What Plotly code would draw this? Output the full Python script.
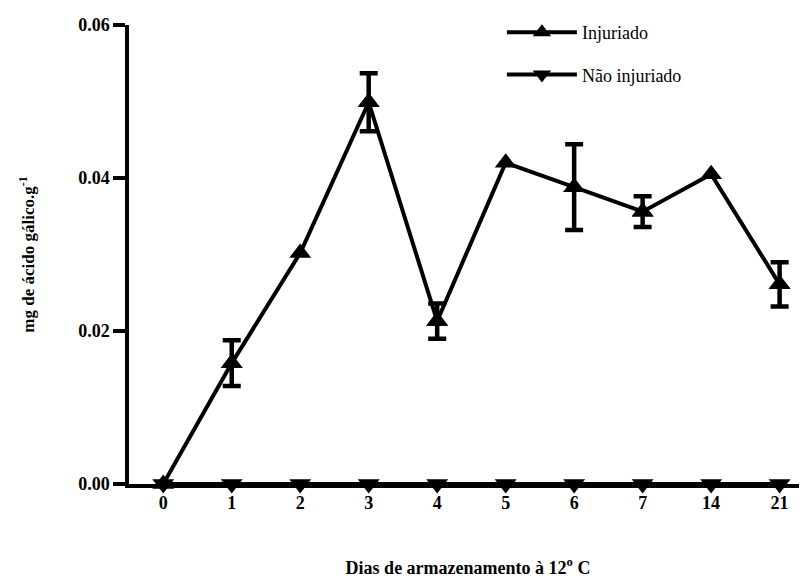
import plotly.graph_objects as go

dias = ["0", "1", "2", "3", "4", "5", "6", "7", "14", "21"]
injuriado = [0.0, 0.0158, 0.0302, 0.0499, 0.0213, 0.0420, 0.0388, 0.0356, 0.0405, 0.0261]
injuriado_err = [0.0, 0.0030, 0.0, 0.0038, 0.0023, 0.0, 0.0056, 0.0020, 0.0, 0.0029]
nao_injuriado = [0.0, 0.0, 0.0, 0.0, 0.0, 0.0, 0.0, 0.0, 0.0, 0.0]

font_family = "Liberation Serif, Times New Roman, serif"

# points that actually carry an error bar
err_idx = [i for i, e in enumerate(injuriado_err) if e > 0]

fig = go.Figure()
fig.add_trace(go.Scatter(
    x=dias, y=injuriado, name="Injuriado", legendgroup="a",
    mode="lines+markers",
    line=dict(color="black", width=4),
    marker=dict(symbol="triangle-up", size=19, color="black"),
    cliponaxis=False,
))
fig.add_trace(go.Scatter(
    x=[dias[i] for i in err_idx], y=[injuriado[i] for i in err_idx],
    mode="markers", showlegend=False, hoverinfo="skip",
    marker=dict(symbol="triangle-up", size=19, color="black"),
    error_y=dict(type="data", array=[injuriado_err[i] for i in err_idx],
                 visible=True, color="black", thickness=4.5, width=9),
    cliponaxis=False,
))
fig.add_trace(go.Scatter(
    x=dias, y=nao_injuriado, name="Não injuriado", legendgroup="b",
    mode="lines+markers",
    line=dict(color="black", width=4),
    marker=dict(symbol="triangle-down", size=19, color="black"),
    cliponaxis=False,
))

fig.update_layout(
    width=799, height=578,
    margin=dict(l=121, r=0, t=17, b=102, autoexpand=False),
    paper_bgcolor="white", plot_bgcolor="white",
    font=dict(family=font_family, color="black", size=16),
    showlegend=True,
    legend=dict(x=0.55, y=1.024, xanchor="left", yanchor="top",
                font=dict(size=18, family=font_family),
                tracegroupgap=16, itemwidth=70, bgcolor="rgba(0,0,0,0)"),
    xaxis=dict(
        type="category", categoryorder="array", categoryarray=dias,
        range=[-0.5, 9.4], automargin=False,
        showline=True, linecolor="black", linewidth=3.5,
        ticks="outside", ticklen=0, tickwidth=3.5, tickcolor="black",
        showgrid=False, zeroline=False,
        tickfont=dict(size=18, family=font_family, weight="bold"),
        title=dict(text="<b>Dias de armazenamento à 12<sup>o</sup> C</b>",
                   font=dict(size=18, family=font_family), standoff=50),
    ),
    yaxis=dict(
        range=[0, 0.06], tickvals=[0, 0.02, 0.04, 0.06], automargin=False,
        ticktext=["0.00", "0.02", "0.04", "0.06"],
        showline=True, linecolor="black", linewidth=3.5,
        ticks="outside", ticklen=12, tickwidth=3.5, tickcolor="black",
        showgrid=False, zeroline=False,
        tickfont=dict(size=18, family=font_family, weight="bold"),
        title=dict(text="<b>mg de ácido gálico.g<sup>-1</sup></b>",
                   font=dict(size=17, family=font_family), standoff=40),
    ),
)

fig.write_html("out.html")
